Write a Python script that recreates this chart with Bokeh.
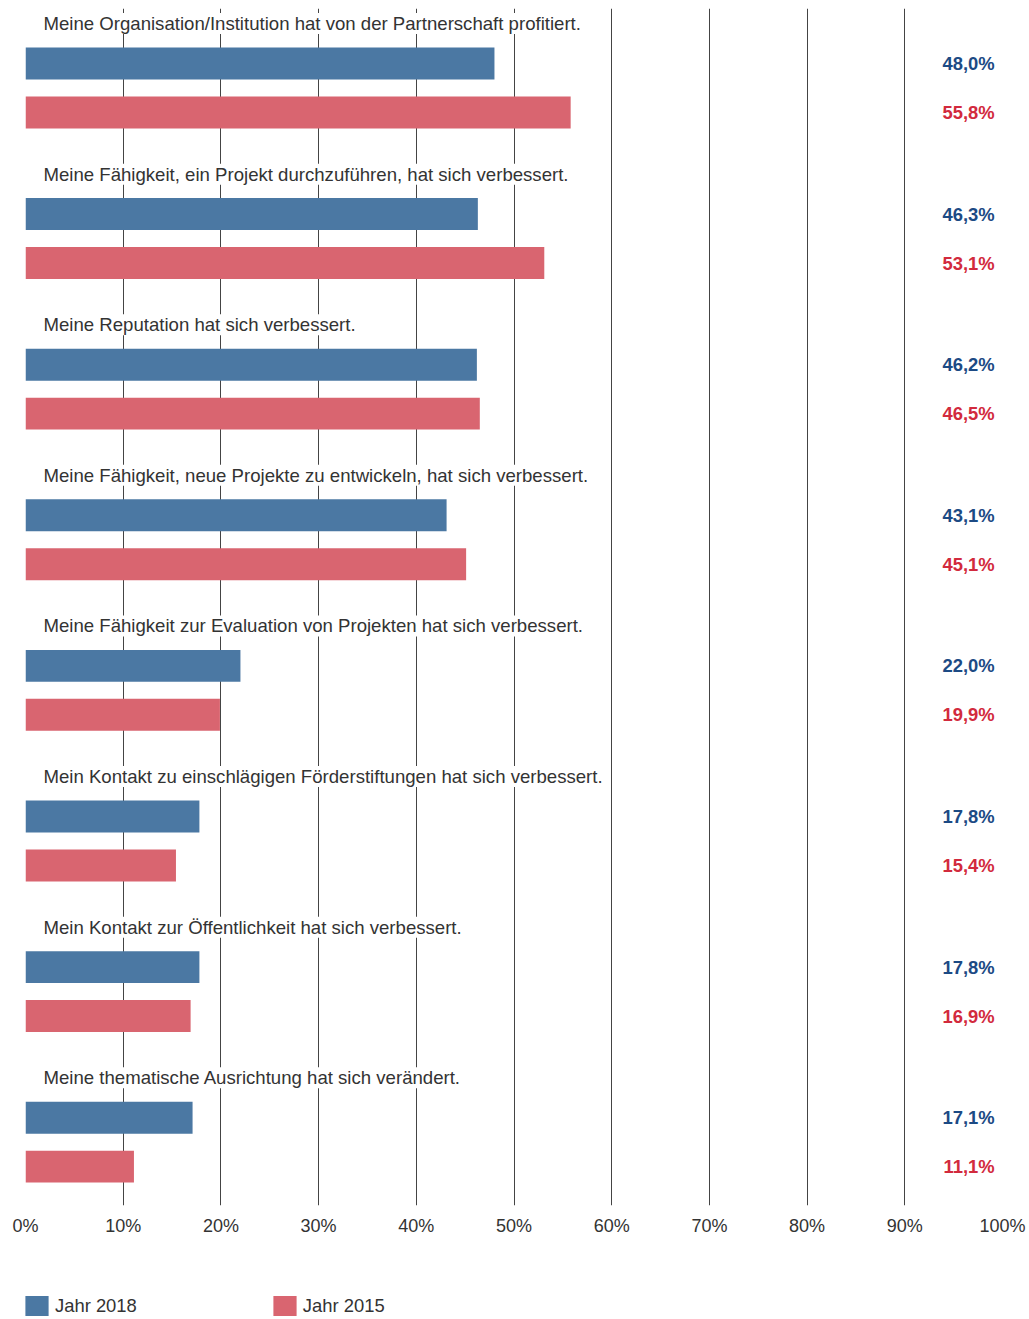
from bokeh.plotting import figure
from bokeh.models import (ColumnDataSource, Range1d, FixedTicker, LabelSet,
                          Legend, LegendItem, CustomJSTickFormatter)
from bokeh.layouts import column
from bokeh.embed import file_html
from bokeh.resources import INLINE
from bokeh.core.properties import value

categories = [
    "Meine Organisation/Institution hat von der Partnerschaft profitiert.",
    "Meine Fähigkeit, ein Projekt durchzuführen, hat sich verbessert.",
    "Meine Reputation hat sich verbessert.",
    "Meine Fähigkeit, neue Projekte zu entwickeln, hat sich verbessert.",
    "Meine Fähigkeit zur Evaluation von Projekten hat sich verbessert.",
    "Mein Kontakt zu einschlägigen Förderstiftungen hat sich verbessert.",
    "Mein Kontakt zur Öffentlichkeit hat sich verbessert.",
    "Meine thematische Ausrichtung hat sich verändert.",
]
values_2018 = [48.0, 46.3, 46.2, 43.1, 22.0, 17.8, 17.8, 17.1]
values_2015 = [55.8, 53.1, 46.5, 45.1, 19.9, 15.4, 16.9, 11.1]
series_names = ["Jahr 2018", "Jahr 2015"]
x_ticks = [0, 10, 20, 30, 40, 50, 60, 70, 80, 90, 100]

FONT = "Liberation Sans"
BLUE = "#4b78a3"
RED = "#d96570"
BLUE_TXT = "#1c4a84"
RED_TXT = "#d22a3d"
TXT = "#333333"

LABEL_OFF, BLUE_OFF, RED_OFF, BAR_H = 0.10, 0.365, 0.69, 0.212

n = len(categories)
idx = list(range(n))

def fmt(v):
    return f"{v:.1f}".replace(".", ",") + "%"

src18 = ColumnDataSource(dict(y=[i + BLUE_OFF for i in idx], v=values_2018,
                              t=[fmt(v) for v in values_2018],
                              tx=[99.2] * n))
src15 = ColumnDataSource(dict(y=[i + RED_OFF for i in idx], v=values_2015,
                              t=[fmt(v) for v in values_2015],
                              tx=[99.2] * n))
srccat = ColumnDataSource(dict(y=[i + LABEL_OFF for i in idx], x=[0] * n,
                               t=categories))

W = 1027
p = figure(width=W, height=1250, output_backend="svg", toolbar_location=None,
           x_range=Range1d(0, 100), y_range=Range1d(7.948, 0),
           min_border_left=25, min_border_right=25, min_border_top=8,
           min_border_bottom=45)
p.outline_line_color = None
p.background_fill_color = "white"
p.border_fill_color = "white"

p.yaxis.visible = False
p.ygrid.visible = False

p.xaxis.ticker = FixedTicker(ticks=x_ticks)
p.xaxis.formatter = CustomJSTickFormatter(code="return tick + '%';")
p.xaxis.axis_line_color = None
p.xaxis.major_tick_line_color = None
p.xaxis.minor_tick_line_color = None
p.xaxis.major_label_standoff = 4
p.xaxis.major_label_text_font = FONT
p.xaxis.major_label_text_font_size = "18px"
p.xaxis.major_label_text_color = TXT

p.xgrid.ticker = FixedTicker(ticks=x_ticks[1:])
p.xgrid.grid_line_color = "#444444"
p.xgrid.grid_line_width = 1

r18 = p.hbar(y="y", right="v", left=0, height=BAR_H, source=src18,
             fill_color=BLUE, line_color=None)
r15 = p.hbar(y="y", right="v", left=0, height=BAR_H, source=src15,
             fill_color=RED, line_color=None)

p.add_layout(LabelSet(x="x", y="y", text="t", source=srccat, x_offset=18,
                      text_baseline="middle", text_font=value(FONT),
                      text_font_size=value("18.6px"), text_color=value(TXT),
                      background_fill_color="white"))

for src, col in ((src18, BLUE_TXT), (src15, RED_TXT)):
    p.add_layout(LabelSet(x="tx", y="y", text="t", source=src,
                          text_align="right", text_baseline="middle",
                          text_font=value(FONT), text_font_size=value("18.4px"),
                          text_font_style=value("bold"), text_color=value(col)))

# legend strip
pl = figure(width=W, height=68, output_backend="svg", toolbar_location=None,
            x_range=Range1d(0, 1), y_range=Range1d(0, 1),
            min_border=0, min_border_left=0, min_border_right=0,
            min_border_top=0, min_border_bottom=0)
pl.outline_line_color = None
pl.axis.visible = False
pl.grid.visible = False
l18 = pl.hbar(y="y", right="v", left=0, height=BAR_H, source=src18,
              fill_color=BLUE, line_color=None, visible=False)
l15 = pl.hbar(y="y", right="v", left=0, height=BAR_H, source=src15,
              fill_color=RED, line_color=None, visible=False)
legend = Legend(items=[LegendItem(label=series_names[0], renderers=[l18]),
                       LegendItem(label=series_names[1], renderers=[l15])],
                orientation="horizontal", location=(-3, 0),
                click_policy="none",
                glyph_width=29, glyph_height=25, label_height=25,
                label_standoff=4, spacing=133, padding=0, margin=0,
                border_line_color=None, background_fill_alpha=0,
                label_text_font=FONT, label_text_font_size="18.4px",
                label_text_color=TXT)
pl.add_layout(legend)

layout = column(p, pl, spacing=0)
open("out.html", "w").write(file_html(layout, INLINE))
